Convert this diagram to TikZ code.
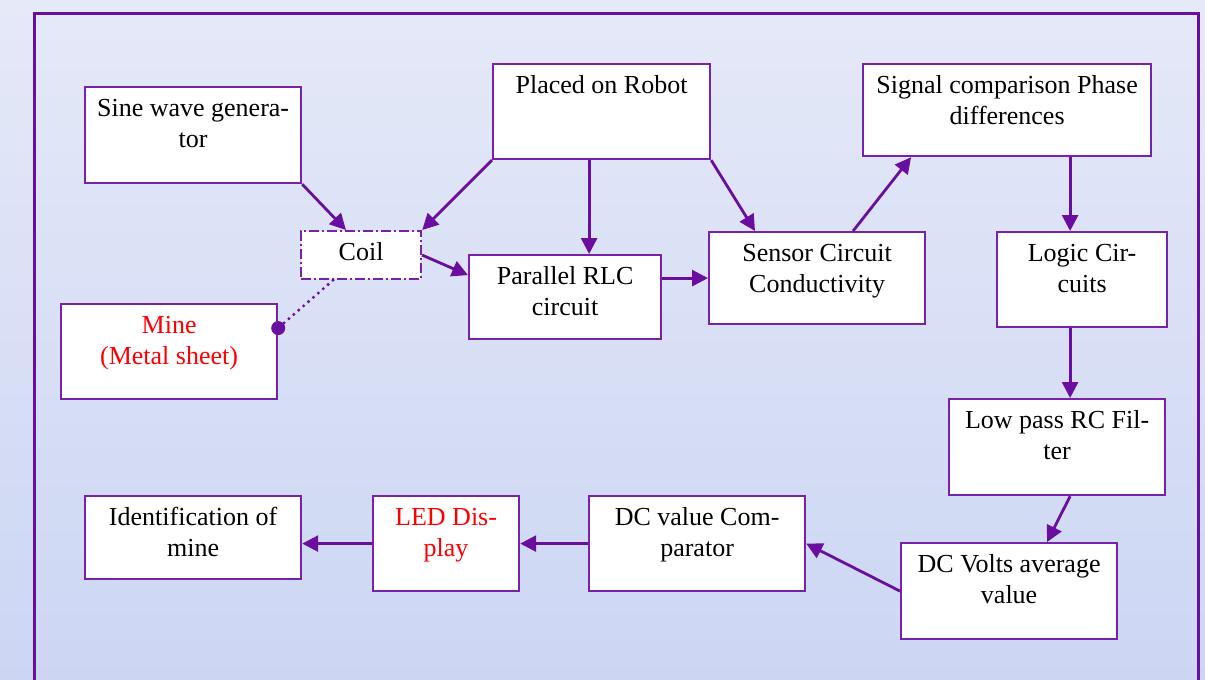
\documentclass[tikz,border=0pt]{standalone}
\usepackage{fontspec}
\setmainfont{Liberation Serif}
\usetikzlibrary{arrows.meta}
\definecolor{pur}{RGB}{106,14,160}
\definecolor{boxline}{RGB}{118,34,170}
\definecolor{bgtop}{RGB}{229,233,248}
\definecolor{bgbot}{RGB}{204,214,243}
\newcommand\bx[6]{%
  \node[boxnode, anchor=north west, minimum width=#4pt, minimum height=#5pt] (#1) at (#2,#3) {};
  \node[txt] (#1t) at ([yshift=-9pt]#1.north) {\strut #6};
}
\begin{document}
\begin{tikzpicture}[x=1pt,y=-1pt,
  boxnode/.style={draw=boxline, line width=2.2pt, fill=white, inner sep=0pt},
  txt/.style={anchor=north, inner sep=0pt, align=center, font=\fontsize{26}{31}\selectfont},
  conn/.style={draw=pur, line width=2.8pt, -{Triangle[length=16pt,width=16pt]}},
]
\useasboundingbox (0,0) rectangle (1205,680);
\clip (0,0) rectangle (1205,680);
\shade[top color=bgtop, bottom color=bgbot] (0,0) rectangle (1205,680);
\draw[pur, line width=3.2pt] (34.5,13.5) rectangle (1198.5,720);

\bx{sine}{84}{86}{216}{96}{Sine wave genera-\\tor}
\bx{robot}{492}{63}{217}{95}{Placed on Robot}
\bx{signal}{862}{63}{288}{92}{Signal comparison Phase\\differences}
\bx{rlc}{468}{254}{192}{84}{Parallel RLC\\circuit}
\bx{sensor}{708}{231}{216}{92}{Sensor Circuit\\Conductivity}
\bx{logic}{996}{231}{170}{95}{Logic Cir-\\cuits}
\bx{mine}{60}{303}{216}{95}{\color{red}Mine\\\color{red}(Metal sheet)}
\bx{lowpass}{948}{398}{216}{96}{Low pass RC Fil-\\ter}
\bx{ident}{84}{495}{216}{83}{Identification of\\mine}
\bx{led}{372}{495}{146}{95}{\color{red}LED Dis-\\\color{red}play}
\bx{dccomp}{588}{495}{216}{95}{DC value Com-\\parator}
\bx{dcv}{900}{542}{216}{96}{DC Volts average\\value}

% coil (dash-dot box)
\node[draw=boxline, line width=2.2pt, fill=white, inner sep=0pt, anchor=north west,
      minimum width=120pt, minimum height=48pt,
      dash pattern=on 10pt off 3pt on 2pt off 3pt] (coil) at (300,230) {};
\node[txt] (coilt) at ([yshift=-9pt]coil.north) {\strut Coil};

% helper coordinates
\coordinate (lg) at ([xshift=-12pt]logic.north);
\coordinate (rb) at ([xshift=24pt]rlc.north);
\coordinate (md) at ([yshift=23.5pt]mine.east);

% connectors
\draw[conn] (sine.south east) -- ([xshift=46pt]coil.north west);
\draw[conn] (robot.south west) -- (coil.north east);
\draw[conn] (rb |- robot.south) -- (rb);
\draw[conn] (robot.south east) -- ([xshift=47pt]sensor.north west);
\draw[conn] (coil.east) -- ([yshift=22pt]rlc.west);
\draw[conn] (sensor.west -| rlc.east) -- (sensor.west);
\draw[conn] ([xshift=36pt]sensor.north) -- ([xshift=-96pt]signal.south);
\draw[conn] (lg |- signal.south) -- (lg);
\draw[conn] (lg |- logic.south) -- (lg |- lowpass.north);
\draw[conn] ([xshift=13pt]lowpass.south) -- ([xshift=38pt]dcv.north);
\draw[conn] (dcv.west) -- (dccomp.east);
\draw[conn] (dccomp.west) -- (led.east);
\draw[conn] (led.west) -- (led.west -| ident.east);

% dotted link coil - mine
\draw[pur, line width=3.4pt, line cap=round, dash pattern=on 0pt off 6.5pt] ([xshift=33pt]coil.south west) -- (md);
\fill[pur] (md) circle (7pt);
\end{tikzpicture}
\end{document}
